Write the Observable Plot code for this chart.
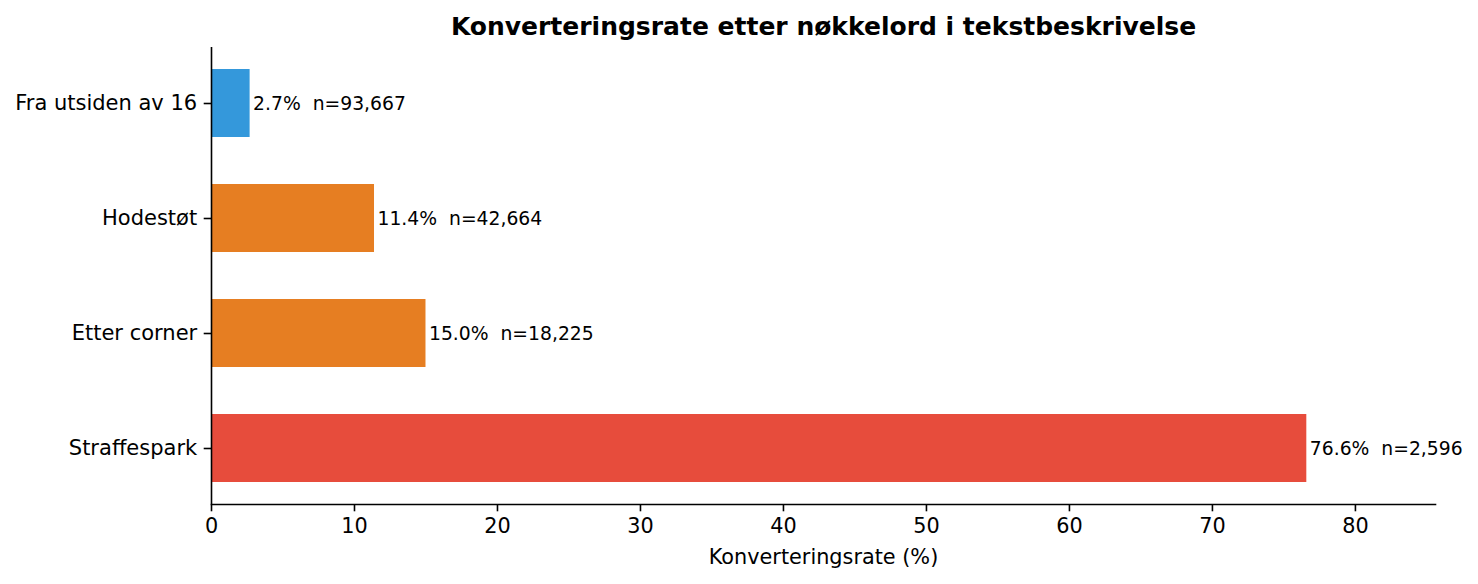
<!DOCTYPE html>
<html><head><meta charset="utf-8">
<script src="https://cdn.jsdelivr.net/npm/d3@7"></script>
<script src="https://cdn.jsdelivr.net/npm/@observablehq/plot@0.6"></script>
<style>
body{margin:0;background:#fff;}
svg text{white-space:pre;}
</style></head><body><div id="chart"></div>
<script>
const categories = ["Fra utsiden av 16", "Hodestøt", "Etter corner", "Straffespark"];
const rates = [2.7, 11.4, 15.0, 76.6];
const counts = [93667, 42664, 18225, 2596];
const colors = ["#3498db", "#e67e22", "#e67e22", "#e74c3c"];
const xTicks = [0, 10, 20, 30, 40, 50, 60, 70, 80];
const title = "Konverteringsrate etter nøkkelord i tekstbeskrivelse";
const xLabel = "Konverteringsrate (%)";

const data = categories.map((c, i) => ({category: c, rate: rates[i], n: counts[i], color: colors[i]}));
const fmt = d3.format(",");

const plot = Plot.plot({
  width: 1478, height: 584,
  marginTop: 47, marginBottom: 80, marginLeft: 211, marginRight: 43,
  style: {fontFamily: "DejaVu Sans", background: "#fff", color: "#000"},
  x: {domain: [0, 85.6]},
  y: {domain: categories, paddingInner: 0.41, paddingOuter: 0.18},
  color: {type: "identity"},
  marks: [
    Plot.barX(data, {x: "rate", y: "category", fill: "color"}),
    Plot.text(data, {x: "rate", y: "category", text: d => `${d.rate.toFixed(1)}%  n=${fmt(d.n)}`,
      textAnchor: "start", dx: 3, fontSize: 18.75, fill: "#000"}),
    Plot.axisX({ticks: xTicks, tickSize: 7.3, tickPadding: 6, fontSize: 20.8, label: null, tickFormat: d => d, strokeWidth: 1.6}),
    Plot.axisY({tickSize: 7.3, tickPadding: 7, fontSize: 21, label: null, strokeWidth: 1.6}),
    Plot.ruleX([0], {stroke: "#000", strokeWidth: 1.6}),
    Plot.frame({anchor: "bottom", stroke: "#000", strokeWidth: 1.6}),
    Plot.text([xLabel], {frameAnchor: "bottom", dy: 53, lineAnchor: "middle", fontSize: 20.8, fill: "#000"}),
    Plot.text([title], {frameAnchor: "top", dy: -21, lineAnchor: "middle", fontSize: 25, fontWeight: "bold", fill: "#000"})
  ]
});
document.getElementById("chart").appendChild(plot);
</script></body></html>
